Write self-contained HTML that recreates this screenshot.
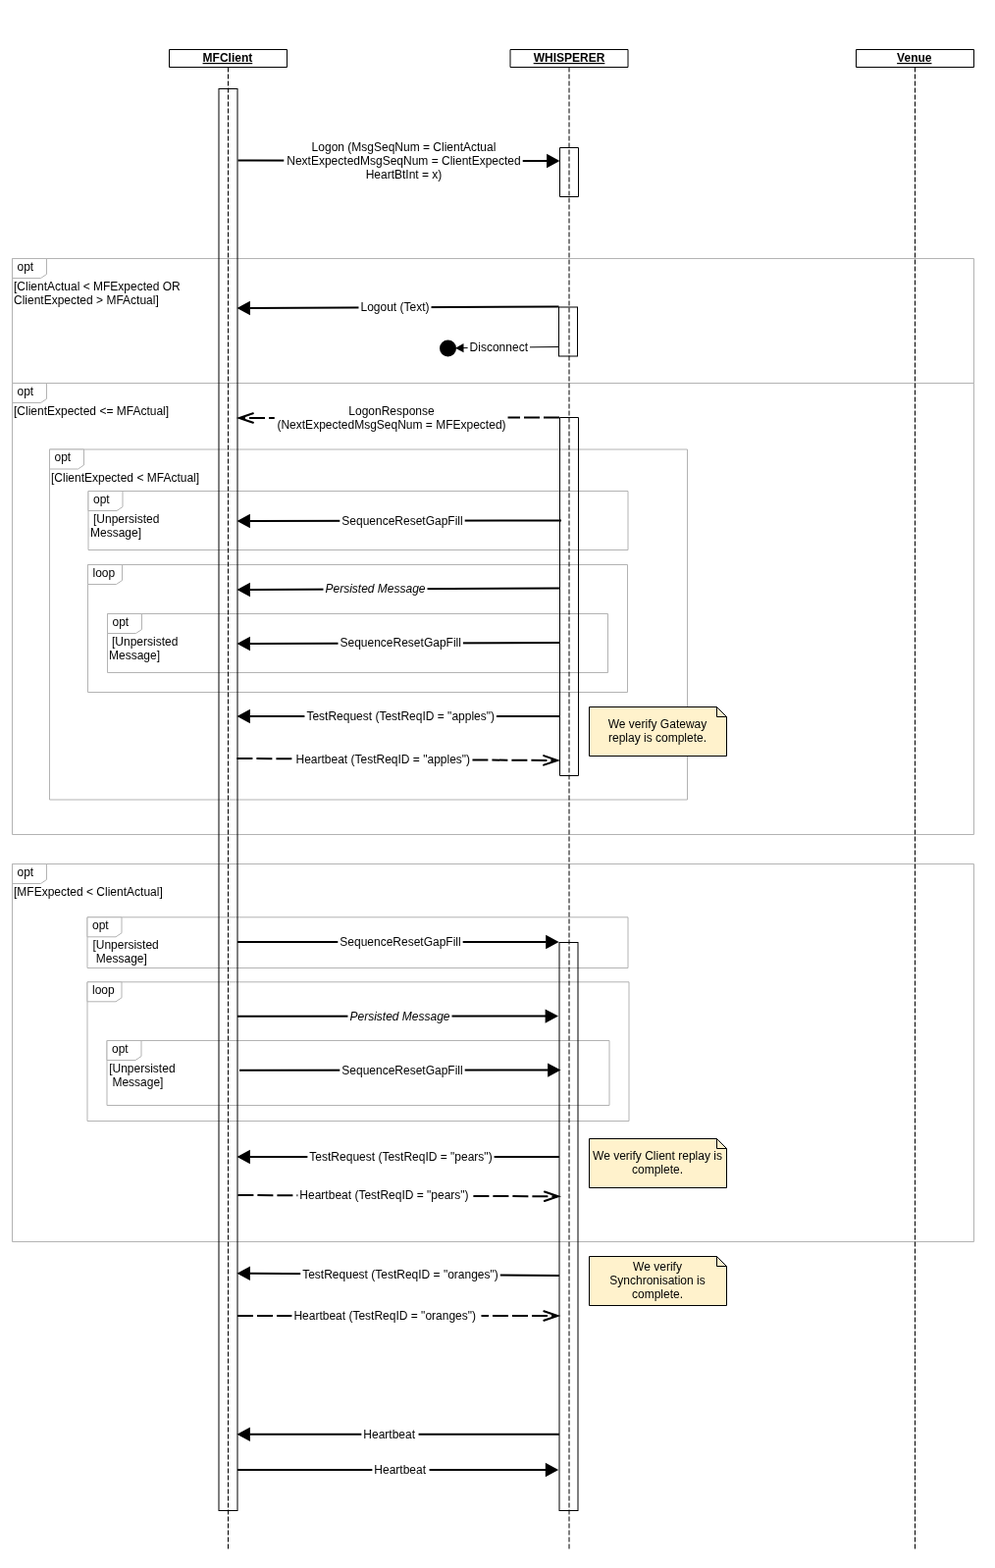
<!DOCTYPE html>
<html><head><meta charset="utf-8"><title>Sequence diagram</title>
<style>
html,body{margin:0;padding:0;background:#fff;}
body{width:1014px;height:1598px;overflow:hidden;}
svg{display:block;will-change:transform;font-family:"Liberation Sans",Helvetica,Arial,sans-serif;font-size:12px;fill:#000;}
svg text{fill:#000;stroke:none;}
</style></head><body>
<svg width="1014" height="1598" viewBox="0 0 1014 1598">
<rect x="12.5" y="263.5" width="980" height="127" stroke="#b3b3b3" fill="none" stroke-width="1" stroke-linejoin="round"/>
<path d="M12.5 263.5H47.5V279.5L41.5 283.5H12.5Z" stroke="#b3b3b3" fill="#fff"/>
<text x="17.5" y="275.8">opt</text>
<text x="14" y="296">[ClientActual &lt; MFExpected OR</text>
<text x="14" y="310">ClientExpected &gt; MFActual]</text>
<rect x="12.5" y="390.5" width="980" height="460" stroke="#b3b3b3" fill="none" stroke-width="1" stroke-linejoin="round"/>
<path d="M12.5 390.5H47.5V406.5L41.5 410.5H12.5Z" stroke="#b3b3b3" fill="#fff"/>
<text x="17.5" y="402.8">opt</text>
<text x="14" y="423">[ClientExpected &lt;= MFActual]</text>
<rect x="50.5" y="458" width="650" height="357" stroke="#b3b3b3" fill="none" stroke-width="1" stroke-linejoin="round"/>
<path d="M50.5 458H85.5V474L79.5 478H50.5Z" stroke="#b3b3b3" fill="#fff"/>
<text x="55.5" y="470.3">opt</text>
<text x="52" y="491">[ClientExpected &lt; MFActual]</text>
<rect x="90" y="500.5" width="550" height="60" stroke="#b3b3b3" fill="none" stroke-width="1" stroke-linejoin="round"/>
<path d="M90 500.5H125V516.5L119 520.5H90Z" stroke="#b3b3b3" fill="#fff"/>
<text x="95" y="512.8">opt</text>
<text x="95" y="533">[Unpersisted</text>
<text x="92" y="547">Message]</text>
<rect x="89.5" y="575.5" width="550" height="130" stroke="#b3b3b3" fill="none" stroke-width="1" stroke-linejoin="round"/>
<path d="M89.5 575.5H124.5V591.5L118.5 595.5H89.5Z" stroke="#b3b3b3" fill="#fff"/>
<text x="94.5" y="587.8">loop</text>
<rect x="109.5" y="625.5" width="510" height="60" stroke="#b3b3b3" fill="none" stroke-width="1" stroke-linejoin="round"/>
<path d="M109.5 625.5H144.5V641.5L138.5 645.5H109.5Z" stroke="#b3b3b3" fill="#fff"/>
<text x="114.5" y="637.8">opt</text>
<text x="114" y="658">[Unpersisted</text>
<text x="111" y="672">Message]</text>
<rect x="12.5" y="880.5" width="980" height="385" stroke="#b3b3b3" fill="none" stroke-width="1" stroke-linejoin="round"/>
<path d="M12.5 880.5H47.5V896.5L41.5 900.5H12.5Z" stroke="#b3b3b3" fill="#fff"/>
<text x="17.5" y="892.8">opt</text>
<text x="14" y="913">[MFExpected &lt; ClientActual]</text>
<rect x="89" y="934.8" width="551" height="51.7" stroke="#b3b3b3" fill="none" stroke-width="1" stroke-linejoin="round"/>
<path d="M89 934.8H124V950.8L118 954.8H89Z" stroke="#b3b3b3" fill="#fff"/>
<text x="94" y="947.1">opt</text>
<text x="94.4" y="967">[Unpersisted</text>
<text x="97.80000000000001" y="981">Message]</text>
<rect x="89" y="1000.8" width="552" height="141.7" stroke="#b3b3b3" fill="none" stroke-width="1" stroke-linejoin="round"/>
<path d="M89 1000.8H124V1016.8L118 1020.8H89Z" stroke="#b3b3b3" fill="#fff"/>
<text x="94" y="1013.1">loop</text>
<rect x="109" y="1060.5" width="512" height="66" stroke="#b3b3b3" fill="none" stroke-width="1" stroke-linejoin="round"/>
<path d="M109 1060.5H144V1076.5L138 1080.5H109Z" stroke="#b3b3b3" fill="#fff"/>
<text x="114" y="1072.8">opt</text>
<text x="111.2" y="1093">[Unpersisted</text>
<text x="114.4" y="1107">Message]</text>
<path d="M232.5 68.5V1578.5" stroke="#000" stroke-dasharray="5 2" stroke-dashoffset="0" fill="none"/>
<path d="M580 68.5V1578.5" stroke="#000" stroke-dasharray="5 2" stroke-dashoffset="0" fill="none"/>
<path d="M932.5 68.5V1578.5" stroke="#000" stroke-dasharray="5 2" stroke-dashoffset="0" fill="none"/>
<rect x="172.5" y="50.5" width="120" height="18" stroke="#000" fill="#fff" stroke-width="1" stroke-linejoin="round"/>
<text x="231.9" y="63" text-anchor="middle" font-weight="bold" text-decoration="underline">MFClient</text>
<rect x="520" y="50.5" width="120" height="18" stroke="#000" fill="#fff" stroke-width="1" stroke-linejoin="round"/>
<text x="580.0" y="63" text-anchor="middle" font-weight="bold" text-decoration="underline">WHISPERER</text>
<rect x="872.5" y="50.5" width="120" height="18" stroke="#000" fill="#fff" stroke-width="1" stroke-linejoin="round"/>
<text x="931.8" y="63" text-anchor="middle" font-weight="bold" text-decoration="underline">Venue</text>
<rect x="223" y="90.5" width="19" height="1449" stroke="#000" fill="none" stroke-width="1" stroke-linejoin="miter"/>
<rect x="570.5" y="150.5" width="19" height="50" stroke="#000" fill="none" stroke-width="1" stroke-linejoin="round"/>
<rect x="569.5" y="313" width="19" height="50" stroke="#000" fill="none" stroke-width="1" stroke-linejoin="miter"/>
<rect x="570.5" y="425.5" width="19" height="365" stroke="#000" fill="none" stroke-width="1" stroke-linejoin="round"/>
<rect x="570" y="960.5" width="19" height="579" stroke="#000" fill="none" stroke-width="1" stroke-linejoin="miter"/>
<path d="M242.50 163.50L557.60 163.98" stroke="#000" stroke-width="2" fill="none"/>
<path d="M570.50 164.00L557.09 171.18L557.11 156.78Z" fill="#000"/>
<rect x="289.29" y="143" width="243.42" height="42" fill="#fff"/>
<text x="411.5" y="154" text-anchor="middle">Logon (MsgSeqNum = ClientActual</text>
<text x="411.5" y="168" text-anchor="middle">NextExpectedMsgSeqNum = ClientExpected</text>
<text x="411.5" y="182" text-anchor="middle">HeartBtInt = x)</text>
<path d="M569.50 312.50L254.40 313.94" stroke="#000" stroke-width="2" fill="none"/>
<path d="M241.50 314.00L254.87 306.74L254.93 321.14Z" fill="#000"/>
<rect x="365.49" y="306" width="74.02" height="14" fill="#fff"/>
<text x="402.5" y="317" text-anchor="middle">Logout (Text)</text>
<path d="M569.50 353.50L472.00 354.61" stroke="#000" stroke-width="1" fill="none"/>
<path d="M464.00 354.70L472.45 350.00L472.55 359.20Z" fill="#000"/>
<circle cx="456.5" cy="355" r="8.5" fill="#000"/>
<rect x="476.62" y="347" width="63.36" height="14" fill="#fff"/>
<text x="508.3" y="358" text-anchor="middle">Disconnect</text>
<path d="M570.00 425.50L244.90 425.99" stroke="#000" stroke-width="2" fill="none" stroke-dasharray="16 4"/>
<path d="M257.89 421.22L243.90 426.00L257.91 430.72" stroke="#000" stroke-width="2" fill="none" stroke-miterlimit="10" stroke-linecap="round"/>
<rect x="279.77" y="412" width="237.76" height="28" fill="#fff"/>
<text x="399" y="423" text-anchor="middle">LogonResponse</text>
<text x="399" y="437" text-anchor="middle">(NextExpectedMsgSeqNum = MFExpected)</text>
<path d="M572.00 530.50L254.40 530.98" stroke="#000" stroke-width="2" fill="none"/>
<path d="M241.50 531.00L254.89 523.78L254.91 538.18Z" fill="#000"/>
<rect x="346.30" y="524" width="127.39" height="14" fill="#fff"/>
<text x="410" y="535" text-anchor="middle">SequenceResetGapFill</text>
<path d="M570.00 599.40L254.40 600.94" stroke="#000" stroke-width="2" fill="none"/>
<path d="M241.50 601.00L254.86 593.73L254.93 608.13Z" fill="#000"/>
<rect x="329.48" y="593" width="106.03" height="14" fill="#fff"/>
<text x="382.5" y="604" text-anchor="middle" font-style="italic">Persisted Message</text>
<path d="M570.00 655.10L254.40 655.96" stroke="#000" stroke-width="2" fill="none"/>
<path d="M241.50 656.00L254.88 648.76L254.92 663.16Z" fill="#000"/>
<rect x="344.50" y="648" width="127.39" height="14" fill="#fff"/>
<text x="408.2" y="659" text-anchor="middle">SequenceResetGapFill</text>
<path d="M570.00 730.00L254.40 730.00" stroke="#000" stroke-width="2" fill="none"/>
<path d="M241.50 730.00L254.90 722.80L254.90 737.20Z" fill="#000"/>
<rect x="310.40" y="723" width="195.59" height="14" fill="#fff"/>
<text x="408.2" y="734" text-anchor="middle">TestRequest (TestReqID = &quot;apples&quot;)</text>
<path d="M241.40 773.00L567.10 774.98" stroke="#000" stroke-width="2" fill="none" stroke-dasharray="16 4"/>
<path d="M554.07 779.65L568.10 774.98L554.13 770.15" stroke="#000" stroke-width="2" fill="none" stroke-miterlimit="10" stroke-linecap="round"/>
<rect x="299.50" y="767" width="181.59" height="14" fill="#fff"/>
<text x="390.3" y="778" text-anchor="middle">Heartbeat (TestReqID = &quot;apples&quot;)</text>
<path d="M242.00 960.00L556.70 960.00" stroke="#000" stroke-width="2" fill="none"/>
<path d="M569.60 960.00L556.20 967.20L556.20 952.80Z" fill="#000"/>
<rect x="344.30" y="953" width="127.39" height="14" fill="#fff"/>
<text x="408" y="964" text-anchor="middle">SequenceResetGapFill</text>
<path d="M242.00 1035.70L556.10 1035.60" stroke="#000" stroke-width="2" fill="none"/>
<path d="M569.00 1035.60L555.60 1042.80L555.60 1028.40Z" fill="#000"/>
<rect x="354.48" y="1029" width="106.03" height="14" fill="#fff"/>
<text x="407.5" y="1040" text-anchor="middle" font-style="italic">Persisted Message</text>
<path d="M244.00 1090.70L558.60 1090.60" stroke="#000" stroke-width="2" fill="none"/>
<path d="M571.50 1090.60L558.10 1097.80L558.10 1083.40Z" fill="#000"/>
<rect x="346.30" y="1084" width="127.39" height="14" fill="#fff"/>
<text x="410" y="1095" text-anchor="middle">SequenceResetGapFill</text>
<path d="M570.00 1179.00L254.40 1179.00" stroke="#000" stroke-width="2" fill="none"/>
<path d="M241.50 1179.00L254.90 1171.80L254.90 1186.20Z" fill="#000"/>
<rect x="313.38" y="1172" width="190.25" height="14" fill="#fff"/>
<text x="408.5" y="1183" text-anchor="middle">TestRequest (TestReqID = &quot;pears&quot;)</text>
<path d="M242.40 1218.00L567.90 1219.28" stroke="#000" stroke-width="2" fill="none" stroke-dasharray="16 4"/>
<path d="M554.88 1223.98L568.90 1219.29L554.92 1214.48" stroke="#000" stroke-width="2" fill="none" stroke-miterlimit="10" stroke-linecap="round"/>
<rect x="303.38" y="1211" width="176.25" height="14" fill="#fff"/>
<text x="391.5" y="1222" text-anchor="middle">Heartbeat (TestReqID = &quot;pears&quot;)</text>
<path d="M570.00 1300.00L254.40 1297.79" stroke="#000" stroke-width="2" fill="none"/>
<path d="M241.50 1297.70L254.95 1290.59L254.85 1304.99Z" fill="#000"/>
<rect x="306.20" y="1292" width="203.59" height="14" fill="#fff"/>
<text x="408" y="1303" text-anchor="middle">TestRequest (TestReqID = &quot;oranges&quot;)</text>
<path d="M242.00 1341.00L567.30 1341.00" stroke="#000" stroke-width="2" fill="none" stroke-dasharray="16 4"/>
<path d="M554.30 1345.75L568.30 1341.00L554.30 1336.25" stroke="#000" stroke-width="2" fill="none" stroke-miterlimit="10" stroke-linecap="round"/>
<rect x="297.40" y="1334" width="193.09" height="14" fill="#fff"/>
<text x="392.2" y="1345" text-anchor="middle">Heartbeat (TestReqID = &quot;oranges&quot;)</text>
<path d="M570.00 1461.80L254.40 1461.80" stroke="#000" stroke-width="2" fill="none"/>
<path d="M241.50 1461.80L254.90 1454.60L254.90 1469.00Z" fill="#000"/>
<rect x="368.36" y="1455" width="58.19" height="14" fill="#fff"/>
<text x="396.7" y="1466" text-anchor="middle">Heartbeat</text>
<path d="M242.00 1498.00L556.30 1498.00" stroke="#000" stroke-width="2" fill="none"/>
<path d="M569.20 1498.00L555.80 1505.20L555.80 1490.80Z" fill="#000"/>
<rect x="379.36" y="1491" width="58.19" height="14" fill="#fff"/>
<text x="407.7" y="1502" text-anchor="middle">Heartbeat</text>
<path d="M600.5 720.5H730.5L740.5 730.5V770.5H600.5Z" fill="#fff2cc" stroke="#000"/>
<path d="M730.5 720.5V730.5H740.5" fill="none" stroke="#000"/>
<text x="670" y="742" text-anchor="middle">We verify Gateway</text>
<text x="670" y="756" text-anchor="middle">replay is complete.</text>
<path d="M600.5 1160.5H730.5L740.5 1170.5V1210.5H600.5Z" fill="#fff2cc" stroke="#000"/>
<path d="M730.5 1160.5V1170.5H740.5" fill="none" stroke="#000"/>
<text x="670" y="1182" text-anchor="middle">We verify Client replay is</text>
<text x="670" y="1196" text-anchor="middle">complete.</text>
<path d="M600.5 1280.5H730.5L740.5 1290.5V1330.5H600.5Z" fill="#fff2cc" stroke="#000"/>
<path d="M730.5 1280.5V1290.5H740.5" fill="none" stroke="#000"/>
<text x="670" y="1295" text-anchor="middle">We verify</text>
<text x="670" y="1309" text-anchor="middle">Synchronisation is</text>
<text x="670" y="1323" text-anchor="middle">complete.</text>
</svg>
</body></html>
